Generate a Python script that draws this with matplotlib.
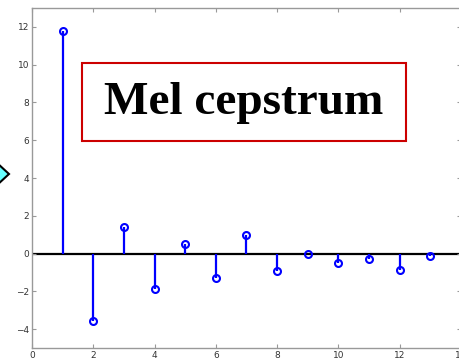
import matplotlib.pyplot as plt
from matplotlib.patches import Rectangle, Polygon

# coefficient index and mel cepstrum values
idx = [1, 2, 3, 4, 5, 6, 7, 8, 9, 10, 11, 12, 13]
ceps = [11.8, -3.58, 1.38, -1.89, 0.53, -1.31, 0.98, -0.90, -0.02, -0.51, -0.28, -0.87, -0.13]
xticks = [0, 2, 4, 6, 8, 10, 12, 14]
yticks = [-4, -2, 0, 2, 4, 6, 8, 10, 12]

fig = plt.figure(figsize=(4.6, 3.61), dpi=100)
ax = fig.add_axes([32 / 460, 13 / 361, 429 / 460, 340 / 361])

ml, sl, bl = ax.stem(idx, ceps, basefmt=' ')
plt.setp(sl, color='#0000ff', linewidth=1.6)
plt.setp(ml, color='#0000ff', marker='o', markersize=5, markerfacecolor='none',
         markeredgewidth=1.5)
ax.axhline(0, color='black', linewidth=1.6, zorder=1)

ax.set_xlim(0, 14)
ax.set_ylim(-5, 13)
ax.set_xticks(xticks)
ax.set_yticks(yticks)
ax.tick_params(direction='in', length=3, width=0.8, color='#999999',
               labelsize=6.5, labelcolor='#333333', top=True, right=True, pad=2)
for s in ax.spines.values():
    s.set_color('#999999')
    s.set_linewidth(1.0)

# red framed title box
fig.add_artist(Rectangle((82 / 460, 1 - 141 / 361), 324 / 460, 78 / 361,
                         transform=fig.transFigure, facecolor='white',
                         edgecolor='#cc0000', linewidth=1.5, zorder=5))
fig.text(244 / 460, 1 - 103 / 361, 'Mel cepstrum', family='Liberation Serif',
         fontweight='bold', fontsize=34, ha='center', va='center', zorder=6)

# cyan arrow tip at the left edge
fig.add_artist(Polygon([(-4 / 460, 1 - 162 / 361), (9 / 460, 1 - 174 / 361),
                        (-4 / 460, 1 - 186 / 361), (-17 / 460, 1 - 174 / 361)],
                       closed=True, transform=fig.transFigure,
                       facecolor='#66ffff', edgecolor='black', linewidth=1.5))

fig.savefig('out.png', dpi=100)
